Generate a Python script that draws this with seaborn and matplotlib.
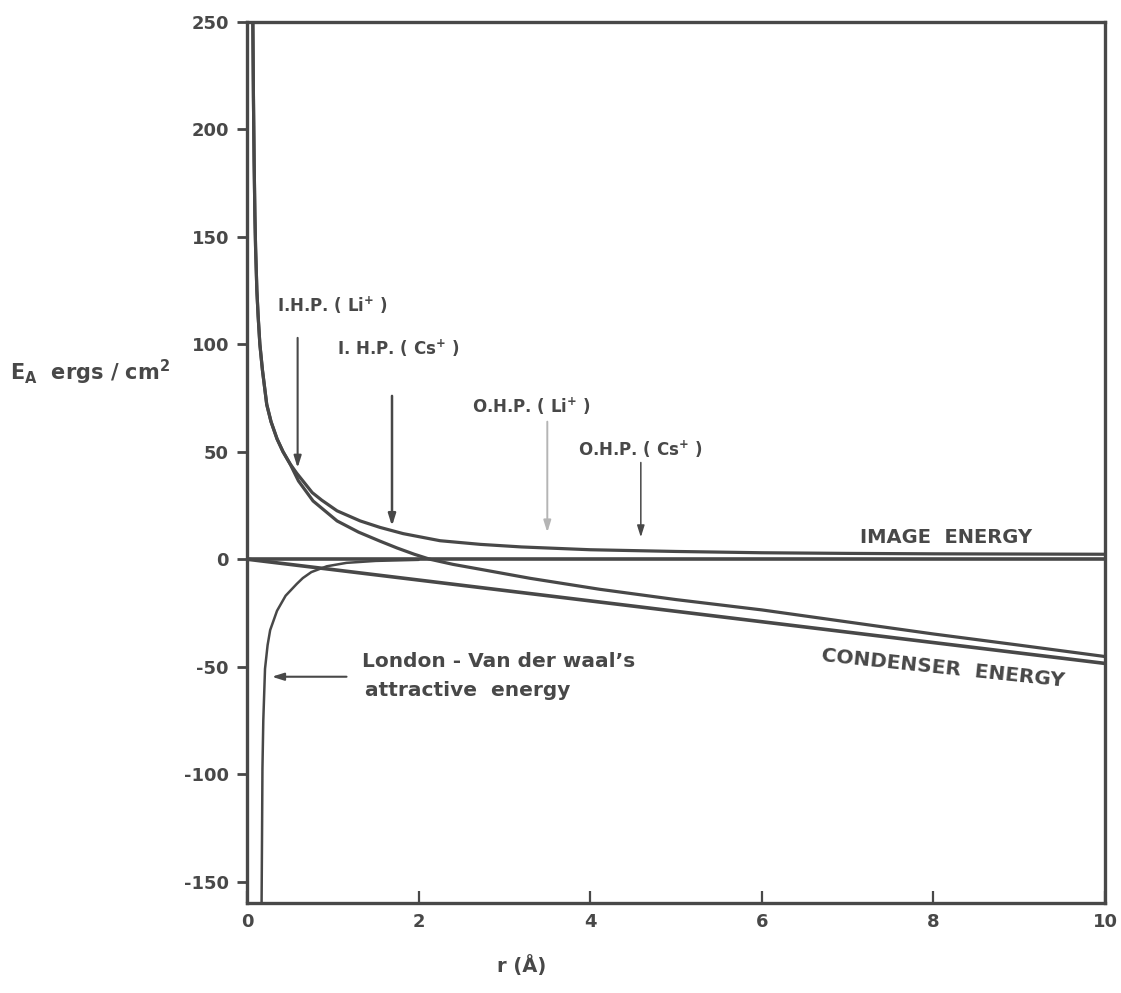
import matplotlib
matplotlib.use("Agg")
import matplotlib.pyplot as plt
import seaborn as sns
import pandas as pd

# ---- data ----
image_r = [0.068, 0.075, 0.083, 0.092, 0.1, 0.115, 0.13, 0.15, 0.18, 0.23, 0.28,
           0.35, 0.42, 0.5, 0.58, 0.66, 0.76, 0.87, 1.05, 1.32, 1.55, 1.82, 2.25,
           2.72, 3.2, 4.0, 5.0, 6.0, 7.0, 8.0, 9.0, 10.0]
image_e = [250, 215, 185, 160, 145, 125, 113, 100, 88, 72, 64,
           56, 50, 44.5, 40, 36, 31, 27.5, 22.5, 17.8, 14.8, 11.9, 8.6,
           6.9, 5.7, 4.4, 3.6, 3.0, 2.7, 2.5, 2.4, 2.3]

total_r = [0.068, 0.075, 0.083, 0.092, 0.1, 0.115, 0.13, 0.15, 0.18, 0.23, 0.28,
           0.35, 0.42, 0.5, 0.6, 0.77, 1.05, 1.3, 1.55, 1.75, 1.95, 2.13, 2.4,
           2.72, 3.3, 4.11, 5.0, 6.0, 7.0, 8.0, 9.0, 10.0]
total_e = [250, 215, 185, 160, 145, 125, 113, 100, 88, 72, 64,
           56, 50, 44.5, 36.4, 27.1, 17.8, 12.6, 8.4, 5.2, 2.3, 0.0, -2.4,
           -4.7, -8.9, -14.0, -18.8, -23.6, -29.2, -34.8, -40.0, -45.3]

condenser_r = [0.0, 10.0]
condenser_e = [0.0, -48.5]

london_r = [0.17, 0.175, 0.18, 0.19, 0.21, 0.24, 0.27, 0.35, 0.45, 0.58, 0.65,
            0.75, 0.93, 1.16, 1.5, 2.0]
london_e = [-160, -130, -97.5, -75, -51, -40, -33, -24, -17, -11.5, -8.8,
            -6.0, -3.3, -1.7, -0.8, -0.3]

x_ticks = [0, 2, 4, 6, 8, 10]
y_ticks = [-150, -100, -50, 0, 50, 100, 150, 200, 250]

# ---- style ----
sns.set_style("white")
plt.rcParams["font.family"] = ["DejaVu Sans"]
plt.rcParams["mathtext.default"] = "bf"
plt.rcParams["axes.unicode_minus"] = False
INK = "#484848"

W, H = 1121, 993
fig = plt.figure(figsize=(W / 100, H / 100), dpi=100)
ax = fig.add_axes([247 / W, 1 - 903 / H, (1105 - 247) / W, (903 - 22) / H])

df_img = pd.DataFrame({"r": image_r, "E": image_e})
df_tot = pd.DataFrame({"r": total_r, "E": total_e})
df_con = pd.DataFrame({"r": condenser_r, "E": condenser_e})
df_lon = pd.DataFrame({"r": london_r, "E": london_e})

sns.lineplot(data=df_img, x="r", y="E", ax=ax, color=INK, lw=2.3, sort=False, estimator=None)
sns.lineplot(data=df_tot, x="r", y="E", ax=ax, color=INK, lw=2.3, sort=False, estimator=None)
sns.lineplot(data=df_con, x="r", y="E", ax=ax, color=INK, lw=2.6, sort=False, estimator=None)
sns.lineplot(data=df_lon, x="r", y="E", ax=ax, color=INK, lw=1.8, sort=False, estimator=None)
ax.axhline(0, color=INK, lw=2.6)

ax.set_xlim(0, 10)
ax.set_ylim(-160, 250)
ax.set_xticks(x_ticks)
ax.set_yticks(y_ticks)
ax.set_xlabel("")
ax.set_ylabel("")

for s in ax.spines.values():
    s.set_color(INK)
    s.set_linewidth(2.4)
    s.set_visible(True)

ax.tick_params(axis="y", direction="out", length=7, width=2, color=INK,
               labelsize=13, labelcolor=INK, pad=6, left=True)
ax.tick_params(axis="x", direction="in", length=9, width=1.6, color=INK,
               labelsize=13, labelcolor=INK, pad=7, bottom=True)
for lab in ax.get_xticklabels() + ax.get_yticklabels():
    lab.set_fontweight("bold")

tkw = dict(color=INK, fontweight="bold", fontsize=12, va="center", ha="left")
ax.text(0.35, 118, "I.H.P. ( Li$^{+}$ )", **tkw)
ax.text(1.05, 98, "I. H.P. ( Cs$^{+}$ )", **tkw)
ax.text(2.62, 71, "O.H.P. ( Li$^{+}$ )", **tkw)
ax.text(3.86, 51, "O.H.P. ( Cs$^{+}$ )", **tkw)

def arrow(x0, y0, x1, y1, col=INK, lw=1.5):
    ax.annotate("", xy=(x1, y1), xytext=(x0, y0),
                arrowprops=dict(arrowstyle="-|>,head_length=0.7,head_width=0.22",
                                color=col, lw=lw, shrinkA=0, shrinkB=0))

arrow(0.59, 103, 0.59, 42.5)
arrow(1.69, 76, 1.69, 15.4, lw=1.8)
arrow(3.5, 64, 3.5, 12.5, col="#b5b5b5", lw=1.4)
arrow(4.59, 45, 4.59, 10.2, lw=1.1)
arrow(1.16, -54.7, 0.29, -54.7, lw=1.5)

ax.text(8.15, 10.2, "IMAGE  ENERGY", color=INK, fontweight="bold", fontsize=14,
        ha="center", va="center")
ax.text(8.11, -51, "CONDENSER  ENERGY", color=INK, fontweight="bold", fontsize=14.5,
        ha="center", va="center", rotation=-6, rotation_mode="anchor")
ax.text(1.34, -47.7, "London - Van der waal\u2019s", color=INK, fontweight="bold",
        fontsize=14.5, ha="left", va="center")
ax.text(1.37, -61.2, "attractive  energy", color=INK, fontweight="bold",
        fontsize=14.5, ha="left", va="center")

fig.text(10 / W, 1 - 372 / H, "E$_{A}$  ergs / cm$^{2}$", color=INK,
         fontweight="bold", fontsize=15, ha="left", va="center")
fig.text(522 / W, 1 - 966 / H, "r (Å)", color=INK, fontweight="bold",
         fontsize=14, ha="center", va="center")

fig.savefig("out.png", dpi=100, facecolor="white")
